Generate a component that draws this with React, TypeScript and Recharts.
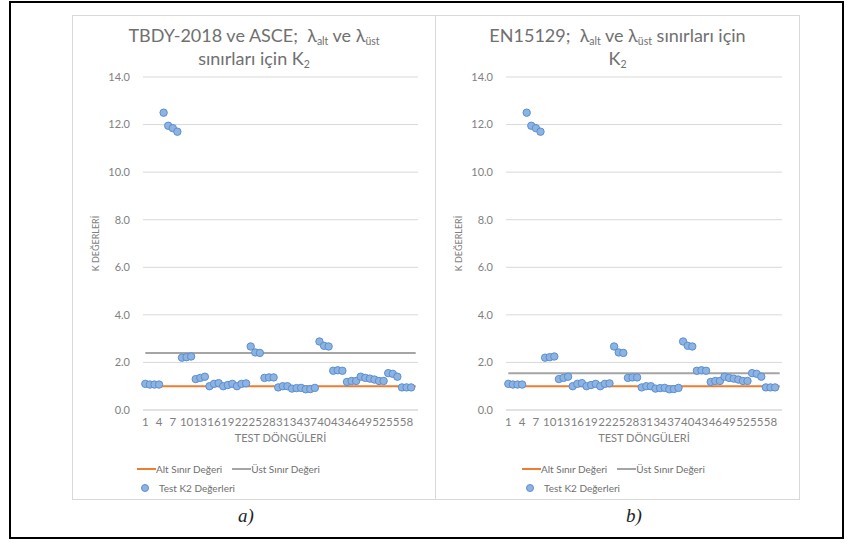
import React from "react";
import { LineChart, Line, XAxis, YAxis, CartesianGrid, Legend } from "recharts";

// test cycles (x categories)
const cycles = [
  1, 2, 3, 4, 5, 6, 7, 8, 9, 10, 11, 12, 13, 14, 15, 16, 17, 18, 19, 20,
  21, 22, 23, 24, 25, 26, 27, 28, 29, 30, 31, 32, 33, 34, 35, 36, 37, 38, 39, 40,
  41, 42, 43, 44, 45, 46, 47, 48, 49, 50, 51, 52, 53, 54, 55, 56, 57, 58, 59, 60,
];

// measured K2 values per cycle (last cycle has no point)
const testK2: (number | null)[] = [
  1.1, 1.07, 1.07, 1.07, 12.5, 11.95, 11.85, 11.7, 2.2, 2.22,
  2.25, 1.3, 1.35, 1.4, 1.0, 1.1, 1.13, 1.0, 1.05, 1.1,
  1.0, 1.1, 1.12, 2.67, 2.42, 2.4, 1.35, 1.37, 1.37, 0.95,
  1.0, 1.0, 0.9, 0.92, 0.93, 0.87, 0.88, 0.93, 2.88, 2.7,
  2.67, 1.65, 1.67, 1.65, 1.18, 1.22, 1.22, 1.4, 1.35, 1.32,
  1.28, 1.22, 1.22, 1.55, 1.52, 1.4, 0.95, 0.95, 0.95, null,
];

const ALT_LIMIT = 1.0;
const UST_LIMIT_TBDY = 2.4;
const UST_LIMIT_EN = 1.55;

const yTicks = [0, 2, 4, 6, 8, 10, 12, 14];

const FONT = "Lato, 'Open Sans', sans-serif";
const ORANGE = "#ED7D31";
const GRAY_LINE = "#A5A5A5";
const DOT_FILL = "#8DB3E2";
const DOT_STROKE = "#5B8FD0";
const TEXT = "#7F7F7F";

function buildRows(ust: number) {
  return cycles.map((c, i) => ({
    cycle: String(c),
    alt: ALT_LIMIT,
    ust: ust,
    test: testK2[i],
  }));
}

function K2Legend() {
  const row: React.CSSProperties = { display: "flex", alignItems: "center", height: 19 };
  const line = (color: string): React.CSSProperties => ({
    display: "inline-block",
    width: 19,
    height: 2,
    background: color,
  });
  return (
    <div style={{ fontFamily: FONT, fontSize: 10, color: "#6F6F6F", height: 50, paddingTop: 9, boxSizing: "border-box" }}>
      <div style={row}>
        <span style={line(ORANGE)} />
        <span>Alt Sınır Değeri</span>
        <span style={{ ...line(GRAY_LINE), marginLeft: 10 }} />
        <span>Üst Sınır Değeri</span>
      </div>
      <div style={row}>
        <span style={{ width: 19, display: "inline-block", position: "relative", height: 8 }}>
          <span
            style={{
              position: "absolute",
              left: 4,
              top: 0,
              width: 6,
              height: 6,
              borderRadius: "50%",
              background: DOT_FILL,
              border: `1px solid ${DOT_STROKE}`,
            }}
          />
        </span>
        <span style={{ marginLeft: 3 }}>Test K2 Değerleri</span>
      </div>
    </div>
  );
}

function YLabel({ viewBox }: any) {
  const x = viewBox.x + 25;
  const y = viewBox.y + viewBox.height / 2;
  return (
    <text
      x={x}
      y={y}
      transform={`rotate(-90 ${x} ${y})`}
      textAnchor="middle"
      dominantBaseline="middle"
      fontSize={9}
      fontFamily={FONT}
      fill={TEXT}
    >
      K DEĞERLERİ
    </text>
  );
}

function K2Chart({ width, ust, legendLeft }: { width: number; ust: number; legendLeft: number }) {
  const rows = buildRows(ust);
  return (
    <LineChart width={width} height={485} data={rows} margin={{ top: 62, right: 18, left: 0, bottom: 0 }}>
      <CartesianGrid vertical={false} stroke="#D9D9D9" />
      <XAxis
        dataKey="cycle"
        interval={2}
        tickLine={false}
        axisLine={{ stroke: "#D9D9D9" }}
        height={40}
        padding={{ left: 2.3, right: 2.3 }}
        tick={{ fontSize: 11.5, fill: TEXT, fontFamily: FONT }}
        label={{ value: "TEST DÖNGÜLERİ", position: "insideBottom", offset: 8, fontSize: 11, fill: TEXT, fontFamily: FONT }}
      />
      <YAxis
        domain={[0, 14]}
        ticks={yTicks}
        width={71}
        tickLine={false}
        axisLine={false}
        tickMargin={7}
        tickFormatter={(v: number) => v.toFixed(1)}
        tick={{ fontSize: 11, fill: TEXT, fontFamily: FONT }}
        label={<YLabel />}
      />
      <Legend
        verticalAlign="bottom"
        content={() => <K2Legend />}
        wrapperStyle={{ left: legendLeft, bottom: 0, width: "auto" }}
      />
      <Line dataKey="alt" stroke={ORANGE} strokeWidth={2} dot={false} activeDot={false} isAnimationActive={false} />
      <Line dataKey="ust" stroke={GRAY_LINE} strokeWidth={2} dot={false} activeDot={false} isAnimationActive={false} />
      <Line
        dataKey="test"
        stroke="none"
        dot={{ r: 3.7, fill: DOT_FILL, stroke: DOT_STROKE, strokeWidth: 1 }}
        activeDot={false}
        isAnimationActive={false}
      />
    </LineChart>
  );
}

const titleStyle: React.CSSProperties = {
  position: "absolute",
  left: 0,
  right: 0,
  top: 8,
  textAlign: "center",
  fontFamily: FONT,
  fontSize: 18,
  lineHeight: "23px",
  color: "#707070",
  zIndex: 2,
};
const sub: React.CSSProperties = { fontSize: 10.5, verticalAlign: "-3px", lineHeight: 0 };

function Frame({ left, width, children }: { left: number; width: number; children: React.ReactNode }) {
  return (
    <div
      style={{
        position: "absolute",
        left,
        top: 15,
        width,
        height: 485,
        border: "1px solid #D9D9D9",
        boxSizing: "border-box",
      }}
    >
      {children}
    </div>
  );
}

const caption: React.CSSProperties = {
  position: "absolute",
  top: 505,
  fontFamily: "'Liberation Serif', 'Times New Roman', serif",
  fontStyle: "italic",
  fontSize: 19,
  color: "#222",
};

export default function App() {
  return (
    <div style={{ position: "absolute", left: 0, top: 0, width: 854, height: 548, background: "#fff" }}>
      <div
        style={{
          position: "absolute",
          left: 9,
          top: 1,
          width: 835,
          height: 538,
          border: "2px solid #000",
          boxSizing: "border-box",
        }}
      />
      <Frame left={72} width={364}>
        <div style={titleStyle}>
          TBDY-2018 ve ASCE;{"\u00a0 "}λ<span style={sub}>alt</span> ve λ<span style={sub}>üst</span>
          <br />
          sınırları için K<span style={sub}>2</span>
        </div>
        <div style={{ position: "absolute", left: -1, top: -1 }}>
          <K2Chart width={364} ust={UST_LIMIT_TBDY} legendLeft={65} />
        </div>
      </Frame>
      <Frame left={435} width={365}>
        <div style={titleStyle}>
          EN15129;{"\u00a0 "}λ<span style={sub}>alt</span> ve λ<span style={sub}>üst</span> sınırları için
          <br />
          K<span style={sub}>2</span>
        </div>
        <div style={{ position: "absolute", left: -1, top: -1 }}>
          <K2Chart width={365} ust={UST_LIMIT_EN} legendLeft={87} />
        </div>
      </Frame>
      <div style={{ ...caption, left: 238 }}>a)</div>
      <div style={{ ...caption, left: 626 }}>b)</div>
    </div>
  );
}
